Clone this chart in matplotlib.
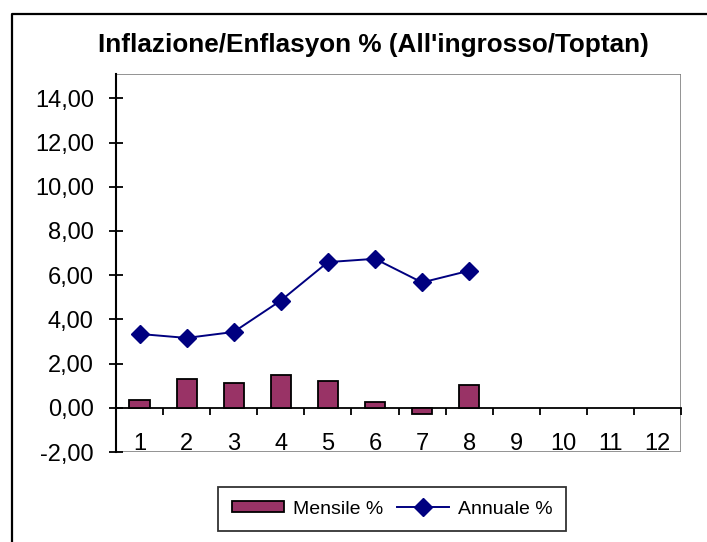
import matplotlib
matplotlib.use('Agg')
import matplotlib.pyplot as plt
from matplotlib.patches import Rectangle
from matplotlib.lines import Line2D
from matplotlib.ticker import FuncFormatter
import numpy as np

plt.rcParams['font.family'] = ['Liberation Sans', 'DejaVu Sans']

# data
months = list(range(1, 13))
mensile = [0.37, 1.28, 1.10, 1.47, 1.19, 0.28, -0.26, 1.02]
annuale = [3.34, 3.16, 3.43, 4.85, 6.59, 6.74, 5.67, 6.20]
yticks = [-2, 0, 2, 4, 6, 8, 10, 12, 14]

W, H = 707, 542
fig = plt.figure(figsize=(W / 100, H / 100), dpi=100)

# outer chart frame: only left and top edges are inside the image
fx, fy = 12 / W, 1 - 14 / H
fig.lines.append(Line2D([fx, fx, 1.0], [0.0, fy, fy], transform=fig.transFigure,
                        color='black', linewidth=1.6))

ax = fig.add_axes([116 / W, 1 - 452 / H, (681 - 116) / W, (452 - 74) / H])

x_bar = np.arange(1, len(mensile) + 1)
x_line = np.arange(1, len(annuale) + 1)
bars = ax.bar(x_bar, mensile, width=0.43, color='#993366', edgecolor='black',
              linewidth=1.3, label='Mensile %', zorder=3)
line, = ax.plot(x_line, annuale, color='#000080', linewidth=1.4, marker='D',
                markersize=9, label='Annuale %', zorder=4)

ax.set_xlim(0.5, 12.5)
ax.set_ylim(-2, 15.1)

# plot area border in grey
ax.add_patch(Rectangle((0, 0), 1, 1, transform=ax.transAxes, fill=False,
                       edgecolor='#808080', linewidth=1.2, zorder=1))
for s in ['top', 'right']:
    ax.spines[s].set_visible(False)
ax.spines['left'].set_linewidth(1.5)
ax.spines['left'].set_zorder(5)
ax.spines['bottom'].set_position(('data', 0))
ax.spines['bottom'].set_linewidth(1.3)

ax.set_yticks(yticks)
ax.yaxis.set_major_formatter(FuncFormatter(lambda v, p: f'{v:.2f}'.replace('.', ',')))
ax.tick_params(axis='y', direction='inout', length=10, width=1.3, labelsize=17, pad=11)

ax.set_xticks(months)
ax.set_xticks(np.arange(1.5, 13, 1), minor=True)
ax.tick_params(axis='x', which='major', length=0, labelsize=17, pad=18)
ax.tick_params(axis='x', which='minor', direction='out', length=5, width=1.3)

fig.text(373 / W, 1 - 52 / H, "Inflazione/Enflasyon % (All'ingrosso/Toptan)",
         ha='center', va='baseline', fontsize=18.8, fontweight='bold')

leg = fig.legend([bars, line], ['Mensile %', 'Annuale %'], loc='center',
                 bbox_to_anchor=(392 / W, 1 - 509 / H), ncol=2,
                 fontsize=14, frameon=True, fancybox=False, edgecolor='black',
                 handlelength=2.7, handleheight=0.5, columnspacing=0.7,
                 handletextpad=0.45, borderpad=0.7)
leg.get_frame().set_linewidth(1.3)

fig.savefig('out.png', dpi=100)
